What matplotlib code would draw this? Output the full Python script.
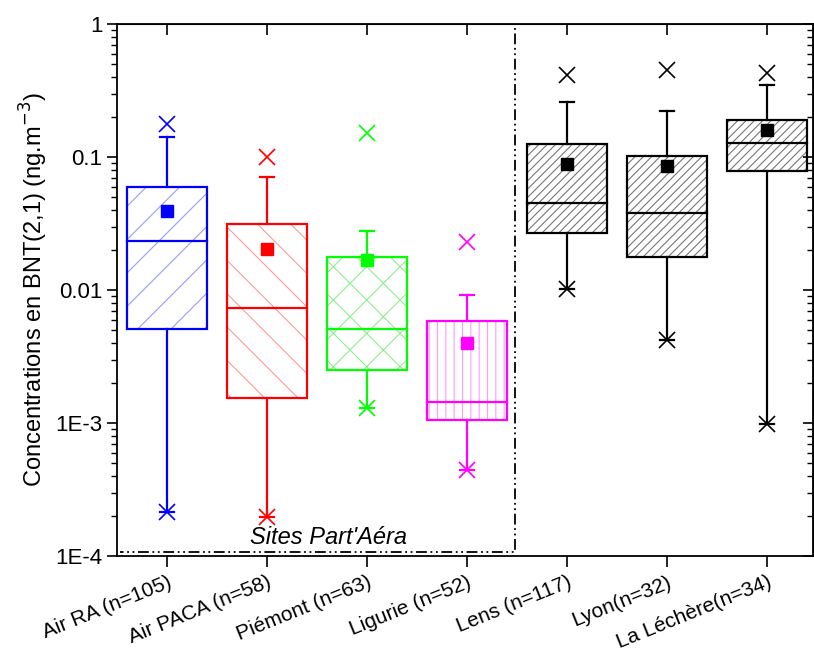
import numpy as np
import matplotlib
matplotlib.use('Agg')
from matplotlib import pyplot as plt
from matplotlib.patches import Rectangle

plt.rcParams['font.family'] = ['Liberation Sans', 'DejaVu Sans']
plt.rcParams['hatch.linewidth'] = 0.8

# donnees
sites = ['Air RA (n=105)', 'Air PACA (n=58)', 'Piémont (n=63)', 'Ligurie (n=52)',
         'Lens (n=117)', 'Lyon(n=32)', 'La Léchère(n=34)']
maxi = [0.177, 0.100, 0.151, 0.023, 0.414, 0.451, 0.428]
moust_haut = [0.141, 0.0708, 0.0278, 0.00917, 0.259, 0.222, 0.348]
q3 = [0.0594, 0.0313, 0.0177, 0.00585, 0.125, 0.102, 0.190]
moyenne = [0.0393, 0.0203, 0.0168, 0.0040, 0.0886, 0.0856, 0.160]
mediane = [0.0233, 0.00733, 0.00509, 0.00144, 0.0451, 0.0379, 0.127]
q1 = [0.00509, 0.00154, 0.0025, 0.00105, 0.0268, 0.0177, 0.0785]
mini = [0.000214, 0.000196, 0.0013, 0.000443, 0.0102, 0.0042, 0.00098]

couleurs = ['#0000ff', '#ff0000', '#00ff00', '#ff00ff', 'k', 'k', 'k']
couleurs_hachures = ['#9a9aff', '#ff9a9a', '#8cf08c', '#ff9aff', '#777777', '#777777', '#777777']
hachures = ['/', '\\', 'x', '||', '////', '////', '////']

fig = plt.figure(figsize=(8.14, 6.55), dpi=100)
ax = fig.add_axes([117 / 814, 1 - 556 / 655, 696 / 814, 532 / 655])
ax.set_yscale('log')
ax.set_ylim(1e-4, 1)
ax.set_xlim(0.5, 7.46)

largeur = 0.8
for i in range(len(sites)):
    x = i + 1
    c = couleurs[i]
    # hachures (couleur plus claire) puis contour
    ax.add_patch(Rectangle((x - largeur / 2, q1[i]), largeur, q3[i] - q1[i], fill=False,
                           hatch=hachures[i], edgecolor=couleurs_hachures[i], linewidth=0, zorder=2))
    ax.add_patch(Rectangle((x - largeur / 2, q1[i]), largeur, q3[i] - q1[i], fill=False,
                           edgecolor=c, linewidth=1.6, zorder=3))
    ax.plot([x - largeur / 2, x + largeur / 2], [mediane[i], mediane[i]], color=c, lw=1.6, zorder=3)
    ax.plot([x, x], [q3[i], moust_haut[i]], color=c, lw=1.6, zorder=3)
    ax.plot([x, x], [q1[i], mini[i]], color=c, lw=1.6, zorder=3)
    ax.plot([x - 0.07, x + 0.07], [moust_haut[i], moust_haut[i]], color=c, lw=1.6, zorder=3)
    ax.plot([x - 0.07, x + 0.07], [mini[i], mini[i]], color=c, lw=1.6, zorder=3)
    ax.plot(x, maxi[i], marker='x', ms=11, mew=1.2, color=c, zorder=4)
    ax.plot(x, mini[i], marker='x', ms=11, mew=1.2, color=c, zorder=4)
    ax.plot(x, moyenne[i], marker='s', ms=9, color=c, zorder=5)

# cadre des sites Part'Aera
ax.plot([0.53, 4.48, 4.48, 0.53], [1.0, 1.0, 1.07e-4, 1.07e-4], color='k', lw=1.3,
        linestyle=(0, (6, 2, 1, 2, 1, 2)), zorder=1)
ax.text(2.61, 1.12e-4, "Sites Part'Aéra", style='italic', fontsize=17, ha='center', va='bottom')

ax.set_xticks(range(1, 8))
ax.set_xticklabels(sites, rotation=22, ha='right', rotation_mode='anchor', fontsize=15)
ax.tick_params(axis='x', which='both', direction='out', length=8, width=1.2, pad=4)
ax.set_yticks([1e-4, 1e-3, 1e-2, 1e-1, 1])
ax.set_yticklabels(['1E-4', '1E-3', '0.01', '0.1', '1'], fontsize=16)
ax.tick_params(axis='y', which='major', direction='out', length=7, width=1.2, right=False)
ax.tick_params(axis='y', which='minor', direction='out', length=4, width=1.0, right=False)
ax.set_ylabel('Concentrations en BNT(2,1) (ng.m$^{-3}$)', fontsize=17)

# ticks du haut vers l'interieur
ax_haut = ax.secondary_xaxis('top')
ax_haut.set_xticks(range(1, 8))
ax_haut.set_xticklabels([])
ax_haut.tick_params(direction='in', length=8, width=1.2)
ax.tick_params(axis='x', top=False)

# axe de droite, ticks vers l'interieur, sans etiquettes
ax_droite = ax.secondary_yaxis('right')
ax_droite.set_yticks([1e-4, 1e-3, 1e-2, 1e-1, 1])
ax_droite.set_yticklabels([])
ax_droite.tick_params(which='major', direction='in', length=7, width=1.2)
ax_droite.tick_params(which='minor', direction='in', length=4, width=1.0, labelright=False)
ax_droite.yaxis.set_minor_formatter(plt.NullFormatter())

for s in ax.spines.values():
    s.set_linewidth(1.3)

fig.savefig('out.png', dpi=100)
